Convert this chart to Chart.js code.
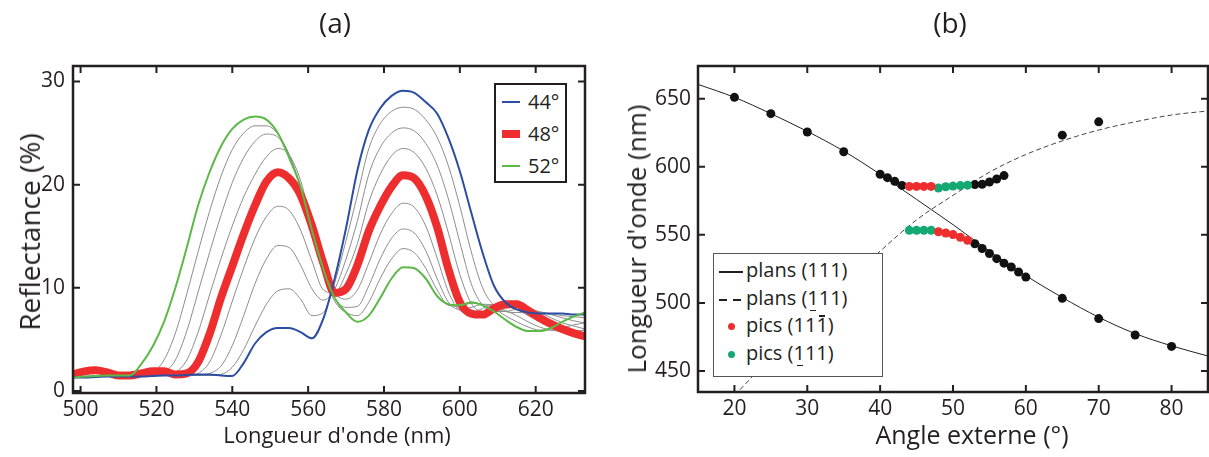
<!DOCTYPE html>
<html>
<head>
<meta charset="utf-8">
<script src="https://cdn.jsdelivr.net/npm/chart.js@4.4.1/dist/chart.umd.min.js"></script>
<style>
  body { margin: 0; background: #fff; font-family: "Open Sans", sans-serif; color: #231f20; }
  #wrap { position: relative; width: 1209px; height: 457px; overflow: hidden; }
  canvas { position: absolute; top: 0; }
  .lbl { position: absolute; white-space: nowrap; line-height: 1; transform: translate(-50%, -50%); }
  .rot { transform: translate(-50%, -50%) rotate(-90deg); }
  .legend { position: absolute; background: #fff; box-sizing: border-box; }
  .row { position: absolute; left: 0; white-space: nowrap; line-height: 1; transform: translateY(-50%); }
  .ub, .ob { position: relative; display: inline-block; line-height: 1; }
  .ub::after { content: ""; position: absolute; left: 3px; width: 6px; bottom: -3px; height: 1.5px; background: #231f20; }
  .ob::after { content: ""; position: absolute; left: 3px; width: 6px; top: 0; height: 1.5px; background: #231f20; }
</style>
</head>
<body>
<div id="wrap">
  <canvas id="chartA" width="600" height="457" style="left:0"></canvas>
  <canvas id="chartB" width="609" height="457" style="left:600px"></canvas>

  <div class="lbl" style="left:335px;top:22px;font-size:28px">(a)</div>
  <div class="lbl" style="left:950px;top:22px;font-size:28px">(b)</div>
  <div class="lbl" style="left:337px;top:434px;font-size:22px">Longueur d'onde (nm)</div>
  <div class="lbl rot" style="left:29px;top:232px;font-size:28px">Reflectance (%)</div>
  <div class="lbl" style="left:972px;top:434px;font-size:25px">Angle externe (°)</div>
  <div class="lbl rot" style="left:636px;top:239px;font-size:26px">Longueur d'onde (nm)</div>

  <div class="legend" style="left:494px;top:83px;width:73px;height:100px;border:2px solid #231f20">
    <div class="row" style="top:17px"><span style="position:absolute;left:6px;top:-1px;width:18px;height:2px;background:#2b4ea3"></span><span style="position:absolute;left:32px;top:-10px;font-size:20px">44°</span></div>
    <div class="row" style="top:49px"><span style="position:absolute;left:6px;top:-4px;width:18px;height:8px;background:#ee2e2e"></span><span style="position:absolute;left:32px;top:-10px;font-size:20px">48°</span></div>
    <div class="row" style="top:81px"><span style="position:absolute;left:6px;top:-1px;width:18px;height:2px;background:#5cb947"></span><span style="position:absolute;left:32px;top:-10px;font-size:20px">52°</span></div>
  </div>

  <div class="legend" style="left:713px;top:253px;width:170px;height:124px;border:1px solid #555">
    <div class="row" style="top:17px"><span style="position:absolute;left:5px;top:0;width:24px;height:1.5px;background:#231f20"></span><span style="position:absolute;left:32px;top:-11px;font-size:20px">plans (111)</span></div>
    <div class="row" style="top:45px"><span style="position:absolute;left:5px;top:0;width:8px;height:1.5px;background:#231f20"></span><span style="position:absolute;left:19px;top:0;width:8px;height:1.5px;background:#231f20"></span><span style="position:absolute;left:32px;top:-11px;font-size:20px">plans (<span class="ub">1</span>11)</span></div>
    <div class="row" style="top:72px"><span style="position:absolute;left:14px;top:-3px;width:7px;height:7px;border-radius:50%;background:#ee2e2e"></span><span style="position:absolute;left:32px;top:-11px;font-size:20px">pics (11<span class="ob">1</span>)</span></div>
    <div class="row" style="top:100px"><span style="position:absolute;left:14px;top:-3px;width:7px;height:7px;border-radius:50%;background:#14a872"></span><span style="position:absolute;left:32px;top:-11px;font-size:20px">pics (<span class="ub">1</span>11)</span></div>
  </div>
</div>

<script>
// (a) reflectance spectra, one curve per incidence angle
const wavelength = [498, 501, 504, 507, 510, 513, 516, 519, 522, 525, 528, 531, 534, 537, 540, 543,
  546, 549, 552, 555, 558, 561, 564, 567, 570, 573, 576, 579, 582, 585, 588, 591, 594, 597, 600,
  603, 606, 609, 612, 615, 618, 621, 624, 627, 630, 633];

const refl44 = [1.3, 1.3, 1.35, 1.4, 1.4, 1.4, 1.4, 1.45, 1.5, 1.5, 1.55, 1.6, 1.6, 1.5, 1.45, 2.7,
  4.6, 5.7, 6.1, 6.1, 5.7, 5.1, 7.0, 10.9, 15.8, 21.4, 25.3, 27.4, 28.6, 29.1, 28.9, 28.0, 26.9, 24.5, 21.3,
  17.3, 13.4, 10.2, 8.6, 7.9, 7.6, 7.5, 7.5, 7.5, 7.4, 7.4];
const refl45 = [1.3, 1.35, 1.4, 1.4, 1.4, 1.4, 1.4, 1.45, 1.5, 1.5, 1.5, 1.5, 1.5, 1.6, 2.3, 4.0,
  6.3, 8.4, 9.7, 9.9, 8.9, 7.3, 7.6, 10.5, 14.6, 19.0, 23.5, 25.9, 27.1, 27.5, 27.3, 26.3, 24.6, 21.8, 17.9,
  13.5, 10.0, 8.3, 7.7, 7.6, 7.6, 7.6, 7.5, 7.3, 7.2, 7.1];
const refl46 = [1.3, 1.35, 1.4, 1.4, 1.4, 1.45, 1.45, 1.5, 1.5, 1.5, 1.5, 1.5, 1.7, 2.4, 4.4, 7.3,
  10.4, 12.8, 14.1, 13.9, 12.2, 9.9, 8.8, 9.9, 12.8, 16.5, 21.0, 23.6, 25.0, 25.5, 25.2, 24.0, 21.9, 18.6, 14.4,
  10.4, 8.3, 7.7, 7.7, 7.9, 7.9, 7.7, 7.4, 7.1, 6.8, 6.6];
const refl47 = [1.3, 1.4, 1.45, 1.45, 1.45, 1.5, 1.5, 1.5, 1.5, 1.5, 1.5, 1.7, 2.8, 5.4, 8.7, 11.9,
  14.8, 16.9, 17.9, 17.5, 15.6, 12.6, 9.8, 9.5, 11.4, 14.3, 18.3, 21.0, 22.8, 23.5, 23.1, 21.6, 19.0, 15.3, 11.3,
  8.5, 7.7, 7.7, 8.0, 8.2, 8.0, 7.6, 7.1, 6.6, 6.3, 6.0];
const refl48 = [1.6, 1.9, 2.0, 1.8, 1.5, 1.5, 1.7, 1.9, 1.9, 1.6, 1.7, 2.8, 5.5, 9.0, 12.1, 15.2,
  18.0, 20.3, 21.2, 20.6, 19.0, 16.0, 12.4, 9.5, 9.9, 12.2, 15.5, 17.9, 19.8, 20.9, 20.6, 18.9, 15.9, 11.8, 8.6,
  7.5, 7.4, 8.0, 8.4, 8.4, 7.8, 7.1, 6.5, 6.0, 5.6, 5.3];
const refl49 = [1.3, 1.4, 1.45, 1.5, 1.5, 1.5, 1.5, 1.5, 1.55, 1.8, 3.0, 5.7, 9.3, 12.8, 16.0, 18.8,
  21.0, 22.7, 23.5, 22.9, 20.4, 16.2, 12.0, 9.5, 8.9, 9.8, 12.4, 15.2, 17.2, 18.2, 17.8, 16.0, 12.9, 9.6, 7.8,
  7.6, 8.0, 8.4, 8.3, 7.9, 7.3, 6.7, 6.2, 5.8, 5.6, 5.5];
const refl50 = [1.3, 1.4, 1.45, 1.5, 1.5, 1.5, 1.5, 1.55, 1.8, 3.0, 5.8, 9.6, 13.4, 17.0, 20.2, 22.6,
  24.2, 24.9, 24.6, 22.9, 19.8, 15.6, 11.6, 9.0, 8.1, 8.2, 10.2, 12.8, 14.8, 15.7, 15.3, 13.6, 10.9, 8.6, 7.9,
  8.1, 8.4, 8.3, 7.8, 7.3, 6.7, 6.2, 5.9, 5.8, 5.8, 5.9];
const refl51 = [1.3, 1.4, 1.45, 1.5, 1.5, 1.5, 1.55, 1.8, 3.0, 5.6, 9.4, 13.5, 17.4, 20.8, 23.4, 25.0,
  25.7, 25.7, 24.9, 22.9, 19.6, 15.4, 11.4, 8.7, 7.6, 7.3, 8.6, 10.9, 12.8, 13.8, 13.4, 11.9, 9.8, 8.3, 8.2,
  8.5, 8.4, 8.0, 7.3, 6.7, 6.2, 5.9, 5.9, 6.1, 6.4, 6.6];
const refl52 = [1.3, 1.4, 1.45, 1.5, 1.5, 1.5, 2.6, 4.3, 6.7, 10.0, 13.9, 18.0, 21.2, 23.7, 25.4, 26.3,
  26.6, 26.3, 25.0, 22.6, 19.8, 15.6, 11.8, 9.0, 7.6, 6.7, 7.3, 9.0, 10.9, 12.0, 11.9, 10.9, 9.2, 8.4, 8.3,
  8.6, 8.3, 7.7, 6.9, 6.2, 5.8, 5.8, 6.1, 6.7, 7.2, 7.6];

const wavelengthTicks = [500, 520, 540, 560, 580, 600, 620];
const reflectanceTicks = [0, 10, 20, 30];

// (b) peak positions vs external angle
const planAngle = [15, 20, 25, 30, 35, 40, 45, 50, 55, 60, 65, 70, 75, 80, 85];
const planNm = [660.5, 651, 639, 626, 611.5, 594.5, 576, 557.5, 538, 520, 504, 489.5, 477.5, 468.5, 461];
const planBarAngle = [20, 25, 30, 35, 40, 45, 50, 55, 60, 65, 70, 75, 80, 85];
const planBarNm = [432, 460, 487, 513, 538, 561, 579, 596, 609, 619, 627, 633, 638, 641];

const blackUpperAngle = [20, 25, 30, 35, 40, 41, 42, 43, 53, 54, 55, 56, 57, 65, 70];
const blackUpperNm = [651, 639, 625.5, 611, 594.5, 592, 589.3, 586.3, 586.9, 587.1, 588.8, 591, 593.5, 623.2, 633];
const blackLowerAngle = [53, 54, 55, 56, 57, 58, 59, 60, 65, 70, 75, 80];
const blackLowerNm = [543.5, 540, 536.3, 532.5, 529.2, 526.4, 522.7, 519, 503.4, 488.5, 476.5, 468.1];
const redAngle = [44, 45, 46, 47, 48, 49, 50, 51, 52];
const redNm = [585.6, 585.6, 585.6, 585.6, 552.3, 551.4, 550.2, 548.2, 546];
const greenAngle = [44, 45, 46, 47, 48, 49, 50, 51, 52];
const greenNm = [553.3, 553.3, 553.3, 553.3, 584.4, 585.3, 585.8, 586.2, 586.5];

const angleTicks = [20, 30, 40, 50, 60, 70, 80];
const nmTicks = [450, 500, 550, 600, 650];

const ink = "#231f20";
const tickFont = { family: "Open Sans", size: 21 };

function pts(xs, ys) {
  return xs.map((x, i) => ({ x: x, y: ys[i] }));
}

// inward tick marks on all four sides plus the box frame
const frameTicks = {
  id: "frameTicks",
  afterDatasetsDraw(chart, args, opts) {
    const { ctx, chartArea: a, scales } = chart;
    const L = opts.tick;
    ctx.save();
    ctx.strokeStyle = ink;
    ctx.lineWidth = 2;
    ctx.beginPath();
    scales.x.ticks.forEach((t) => {
      const px = scales.x.getPixelForValue(t.value);
      ctx.moveTo(px, a.bottom); ctx.lineTo(px, a.bottom - L);
      ctx.moveTo(px, a.top); ctx.lineTo(px, a.top + L);
    });
    scales.y.ticks.forEach((t) => {
      const py = scales.y.getPixelForValue(t.value);
      ctx.moveTo(a.left, py); ctx.lineTo(a.left + L, py);
      ctx.moveTo(a.right, py); ctx.lineTo(a.right - L, py);
    });
    ctx.stroke();
    ctx.lineWidth = opts.frame;
    ctx.strokeRect(a.left, a.top, a.right - a.left, a.bottom - a.top);
    ctx.restore();
  }
};

function axis(min, max, tickValues, size, pad, horizontal) {
  return {
    type: "linear",
    min: min,
    max: max,
    grid: { display: false, drawTicks: false },
    border: { display: false },
    afterBuildTicks: (s) => { s.ticks = tickValues.map((v) => ({ value: v })); },
    afterFit: (s) => { if (horizontal) s.height = size; else s.width = size; },
    ticks: { padding: pad, font: tickFont, color: ink, maxRotation: 0, autoSkip: false }
  };
}

// panel (a)
const spectra = [
  { label: "44°", data: refl44, color: "#2b4ea3", width: 2, order: 1 },
  { label: "45°", data: refl45, color: "#8c8c8c", width: 1, order: 3 },
  { label: "46°", data: refl46, color: "#8c8c8c", width: 1, order: 3 },
  { label: "47°", data: refl47, color: "#8c8c8c", width: 1, order: 3 },
  { label: "48°", data: refl48, color: "#ee2e2e", width: 8, order: 2 },
  { label: "49°", data: refl49, color: "#8c8c8c", width: 1, order: 3 },
  { label: "50°", data: refl50, color: "#8c8c8c", width: 1, order: 3 },
  { label: "51°", data: refl51, color: "#8c8c8c", width: 1, order: 3 },
  { label: "52°", data: refl52, color: "#5cb947", width: 2, order: 0 }
];

new Chart(document.getElementById("chartA"), {
  type: "line",
  data: {
    datasets: spectra.map((s) => ({
      label: s.label,
      data: pts(wavelength, s.data),
      borderColor: s.color,
      borderWidth: s.width,
      order: s.order,
      pointRadius: 0,
      cubicInterpolationMode: "monotone",
      fill: false
    }))
  },
  options: {
    responsive: false,
    animation: false,
    layout: { padding: { left: 0, right: 15, top: 66, bottom: 0 }, autoPadding: false },
    plugins: { legend: { display: false }, tooltip: { enabled: false }, frameTicks: { tick: 7, frame: 2.5 } },
    scales: {
      x: axis(498, 633, wavelengthTicks, 64, 4, true),
      y: axis(-0.2, 31.5, reflectanceTicks, 73, 8, false)
    }
  },
  plugins: [frameTicks]
});

// panel (b)
new Chart(document.getElementById("chartB"), {
  type: "scatter",
  data: {
    datasets: [
      { label: "plans (111)", data: pts(planAngle, planNm), showLine: true, borderColor: ink, borderWidth: 1,
        pointRadius: 0, cubicInterpolationMode: "monotone", order: 5 },
      { label: "plans (-111)", data: pts(planBarAngle, planBarNm), showLine: true, borderColor: "#444", borderWidth: 1,
        borderDash: [5, 3], pointRadius: 0, cubicInterpolationMode: "monotone", order: 4 },
      { label: "black", data: pts(blackUpperAngle, blackUpperNm), pointRadius: 4.5, backgroundColor: "#111", borderWidth: 0, order: 1 },
      { label: "black2", data: pts(blackLowerAngle, blackLowerNm), pointRadius: 4.5, backgroundColor: "#111", borderWidth: 0, order: 1 },
      { label: "pics (11-1)", data: pts(redAngle, redNm), pointRadius: 4.5, backgroundColor: "#ee2e2e", borderWidth: 0, order: 0 },
      { label: "pics (-111)", data: pts(greenAngle, greenNm), pointRadius: 4.5, backgroundColor: "#14a872", borderWidth: 0, order: 0 }
    ]
  },
  options: {
    responsive: false,
    animation: false,
    layout: { padding: { left: 0, right: 1, top: 66, bottom: 0 }, autoPadding: false },
    plugins: { legend: { display: false }, tooltip: { enabled: false }, frameTicks: { tick: 7, frame: 2.5 } },
    scales: {
      x: axis(15, 85, angleTicks, 65, 4, true),
      y: axis(434.6, 674, nmTicks, 98, 7, false)
    }
  },
  plugins: [frameTicks]
});
</script>
</body>
</html>
